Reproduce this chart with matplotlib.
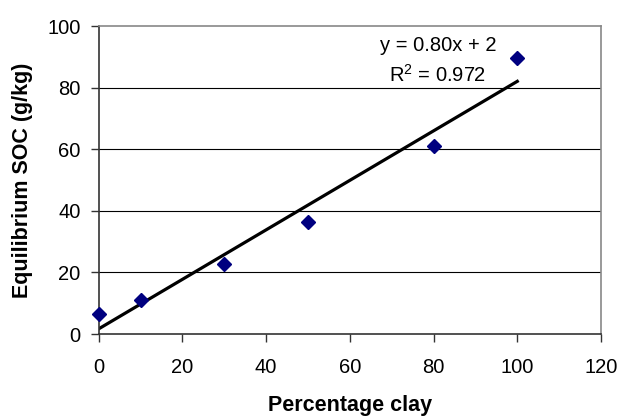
import matplotlib
matplotlib.use("Agg")
import matplotlib.pyplot as plt
import numpy as np

clay = [0, 10, 30, 50, 80, 100]
soc = [6.5, 11.0, 22.6, 36.3, 61.0, 89.6]
x_ticks = [0, 20, 40, 60, 80, 100, 120]
y_ticks = [0, 20, 40, 60, 80, 100]
eq_text = "y = 0.80x + 2"
r2_text = "R$^2$ = 0.972"

plt.rcParams['font.family'] = ['Liberation Sans', 'DejaVu Sans']
plt.rcParams['mathtext.fontset'] = 'custom'
plt.rcParams['mathtext.rm'] = 'Liberation Sans'

W, H = 620, 417
fig = plt.figure(figsize=(W/100, H/100), dpi=100)
ax = fig.add_axes([98.7/W, 1 - 334/H, (601 - 98.7)/W, (334 - 26)/H])

for y in y_ticks[1:-1]:
    ax.axhline(y, color='black', linewidth=0.8, zorder=1)

slope, intercept = np.polyfit(clay, soc, 1)
xl = np.array([min(clay), max(clay)])
ax.plot(xl, slope * xl + intercept, color='black', linewidth=2.3, zorder=2)
ax.plot(clay, soc, linestyle='none', marker='D', markersize=7.3,
        color='#000080', zorder=3, clip_on=False)

ax.set_xlim(0, 120)
ax.set_ylim(0, 100)
ax.set_xticks(x_ticks)
ax.set_yticks(y_ticks)
ax.tick_params(axis='both', direction='out', labelsize=14.5, length=6,
               width=1, color='#333333')
ax.tick_params(axis='x', pad=11)
ax.tick_params(axis='y', pad=7)

ax.spines['left'].set_color('#333333')
ax.spines['bottom'].set_color('#333333')
ax.spines['right'].set_color('#888888')
ax.spines['top'].set_color('#888888')
for s in ax.spines.values():
    s.set_linewidth(1.2)

fig.text(350/W, 1 - 411/H, 'Percentage clay', fontsize=15.5, fontweight='bold',
         ha='center', va='baseline')
ax.set_ylabel('Equilibrium SOC (g/kg)', fontsize=15.5, fontweight='bold', labelpad=10)

ax.text(81.0, 93.8, eq_text, fontsize=14.5, ha='center', va='center')
ax.text(81.0, 84.1, r2_text, fontsize=14.5, ha='center', va='center')

fig.savefig('out.png', dpi=100)
